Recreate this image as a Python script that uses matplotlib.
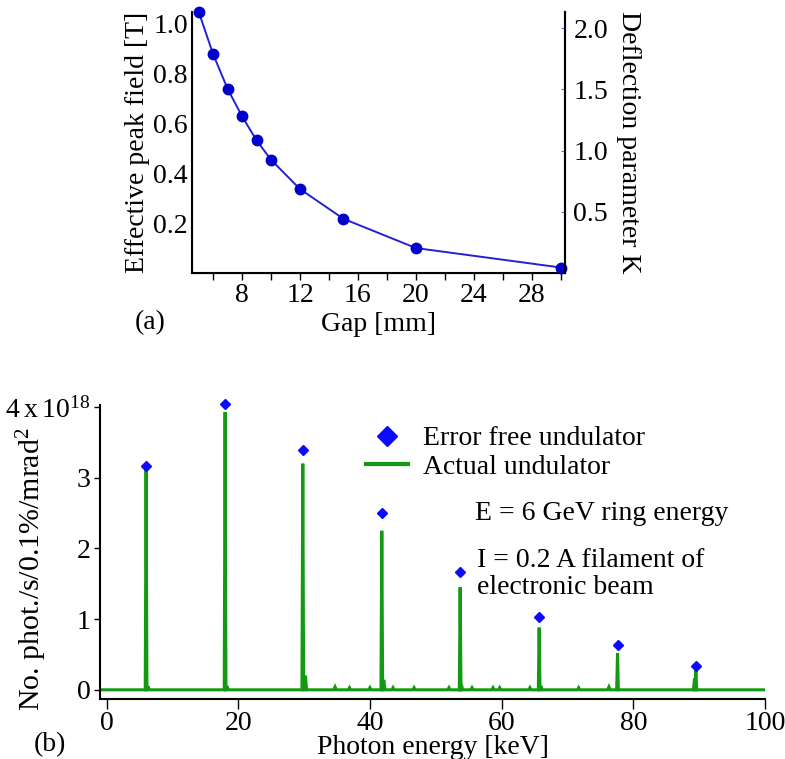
"""
Undulator figure: (a) peak field / K vs gap, (b) on-axis spectrum
"""
import matplotlib
matplotlib.use("Agg")
import matplotlib.pyplot as plt
from matplotlib.lines import Line2D

plt.rcParams['font.family'] = ['Liberation Serif', 'DejaVu Serif']
plt.rcParams['mathtext.fontset'] = 'custom'
plt.rcParams['mathtext.rm'] = 'Liberation Serif'
plt.rcParams['mathtext.it'] = 'Liberation Serif:italic'
plt.rcParams['font.size'] = 20

# (a) gap scan
gap_mm = [5, 6, 7, 8, 9, 10, 12, 15, 20, 30]
peak_field_T = [1.046, 0.876, 0.737, 0.627, 0.531, 0.453, 0.336, 0.217, 0.100, 0.022]
k_per_tesla = 2.04

# (b) spectrum: harmonic positions, actual peak heights, error-free heights
harm_keV = [6.0, 18.0, 29.8, 41.8, 53.7, 65.7, 77.6, 89.5]
actual_flux = [3.14, 3.93, 3.20, 2.25, 1.45, 0.88, 0.52, 0.29]
ideal_flux = [3.16, 4.04, 3.40, 2.50, 1.67, 1.03, 0.64, 0.33]
# small side bumps on the actual spectrum
bump_keV = [6.3, 18.3, 30.2, 34.7, 36.9, 40.0, 42.1, 43.5, 46.7, 52.0, 53.9,
            55.5, 58.7, 59.7, 64.3, 66.0, 71.7, 76.3, 89.3]
bump_flux = [0.05, 0.05, 0.20, 0.04, 0.03, 0.03, 0.14, 0.03, 0.03, 0.03, 0.07,
             0.03, 0.03, 0.03, 0.03, 0.05, 0.03, 0.04, 0.16]

W, H = 785, 759
fig = plt.figure(figsize=(W / 100, H / 100), dpi=100)


def px_axes(l, t, r, b):
    return fig.add_axes([l / W, 1 - b / H, (r - l) / W, (b - t) / H])


# ---------- (a) ----------
ax1 = px_axes(192, 12, 565, 273)
ax1.plot(gap_mm, peak_field_T, color='#2323cc', lw=1.4, marker='o', ms=7.5,
         mfc='#0000cc', mec='#0000cc', clip_on=False, zorder=3)
ax1.set_xlim(4.54, 30.3)
ax1.set_ylim(0, 1.045)
ax1.set_xticks([8, 12, 16, 20, 24, 28])
ax1.set_xticks([6, 10, 14, 18, 22, 26, 30], minor=True)
ax1.set_yticks([0.2, 0.4, 0.6, 0.8, 1.0])
ax1.set_yticklabels(['0.2', '0.4', '0.6', '0.8', '1.0'])
ax1.tick_params(axis='y', length=0, pad=3)
ax1.tick_params(axis='x', which='both', direction='out', length=5, width=1, pad=2)
ax1.spines['top'].set_visible(False)
for s in ['left', 'bottom', 'right']:
    ax1.spines[s].set_linewidth(1.5)
ax1.set_xlabel('Gap [mm]', labelpad=3)
ax1.set_ylabel('Effective peak field [T]', labelpad=2)

ax1r = ax1.twinx()
ax1r.set_ylim(0, 1.045 * k_per_tesla)
ax1r.set_yticks([0.5, 1.0, 1.5, 2.0])
ax1r.set_yticklabels(['0.5', '1.0', '1.5', '2.0'])
ax1r.tick_params(axis='y', direction='in', length=3, color='#6666dd', pad=6)
ax1r.spines['top'].set_visible(False)
ax1r.spines['right'].set_linewidth(1.5)
ax1r.set_ylabel('Deflection parameter K', rotation=-90, labelpad=24)
fig.text(150 / W, 1 - 323 / H, '(a)', ha='center', va='center')

# ---------- (b) ----------
ax2 = px_axes(100, 405, 765, 699)
xs = [-1.0]
ys = [0.0]
marks = sorted([(c, h, 0.13) for c, h in zip(harm_keV, actual_flux)] +
               [(c, h, 0.18) for c, h in zip(bump_keV, bump_flux)])
for c, h, w in marks:
    xs += [c - w, c, c + w]
    ys += [0.0, h, 0.0]
xs.append(100.0)
ys.append(0.0)
ax2.plot(xs, ys, color='#139a13', lw=2.2, solid_joinstyle='miter', zorder=2)
ax2.plot(harm_keV, ideal_flux, ls='none', marker='D', ms=5.5, color='#0a0aff',
         clip_on=False, zorder=3)
ax2.set_xlim(-1.0, 100)
ax2.set_ylim(-0.13, 4.03)
ax2.set_xticks([0, 20, 40, 60, 80, 100])
ax2.set_yticks([0, 1, 2, 3, 4])
ax2.set_yticklabels(['0', '1', '2', '3', r'4$\:$x$\:$10$^{18}$'])
ax2.tick_params(axis='x', direction='out', length=7, width=1, pad=2)
ax2.tick_params(axis='y', direction='out', length=4, width=1, pad=3)
for s in ['top', 'right']:
    ax2.spines[s].set_visible(False)
for s in ['left', 'bottom']:
    ax2.spines[s].set_linewidth(1.5)
ax2.set_xlabel('Photon energy [keV]', labelpad=-1)
ax2.set_ylabel(r'No. phot./s/0.1%/mrad$^2$', fontsize=21.5)
ax2.yaxis.set_label_coords(-0.077, 0.44)
fig.text(50 / W, 1 - 745 / H, '(b)', ha='center', va='center')

handles = [Line2D([], [], ls='none', marker='D', ms=10, color='#0a0aff'),
           Line2D([], [], color='#139a13', lw=3)]
fig.legend(handles, ['Error free undulator', 'Actual undulator'],
           loc='upper left', bbox_to_anchor=(366 / W, 1 - 426 / H),
           bbox_transform=fig.transFigure, frameon=False, borderpad=0,
           borderaxespad=0, handlelength=1.5, handletextpad=0.55,
           labelspacing=0.1, fontsize=20)

fig.text(475 / W, 1 - 513 / H, 'E = 6 GeV ring energy', ha='left', va='center')
fig.text(477 / W, 1 - 574 / H, 'I = 0.2 A filament of\nelectronic beam',
         ha='left', va='center', linespacing=1.15)

fig.savefig('out.png', dpi=100)
